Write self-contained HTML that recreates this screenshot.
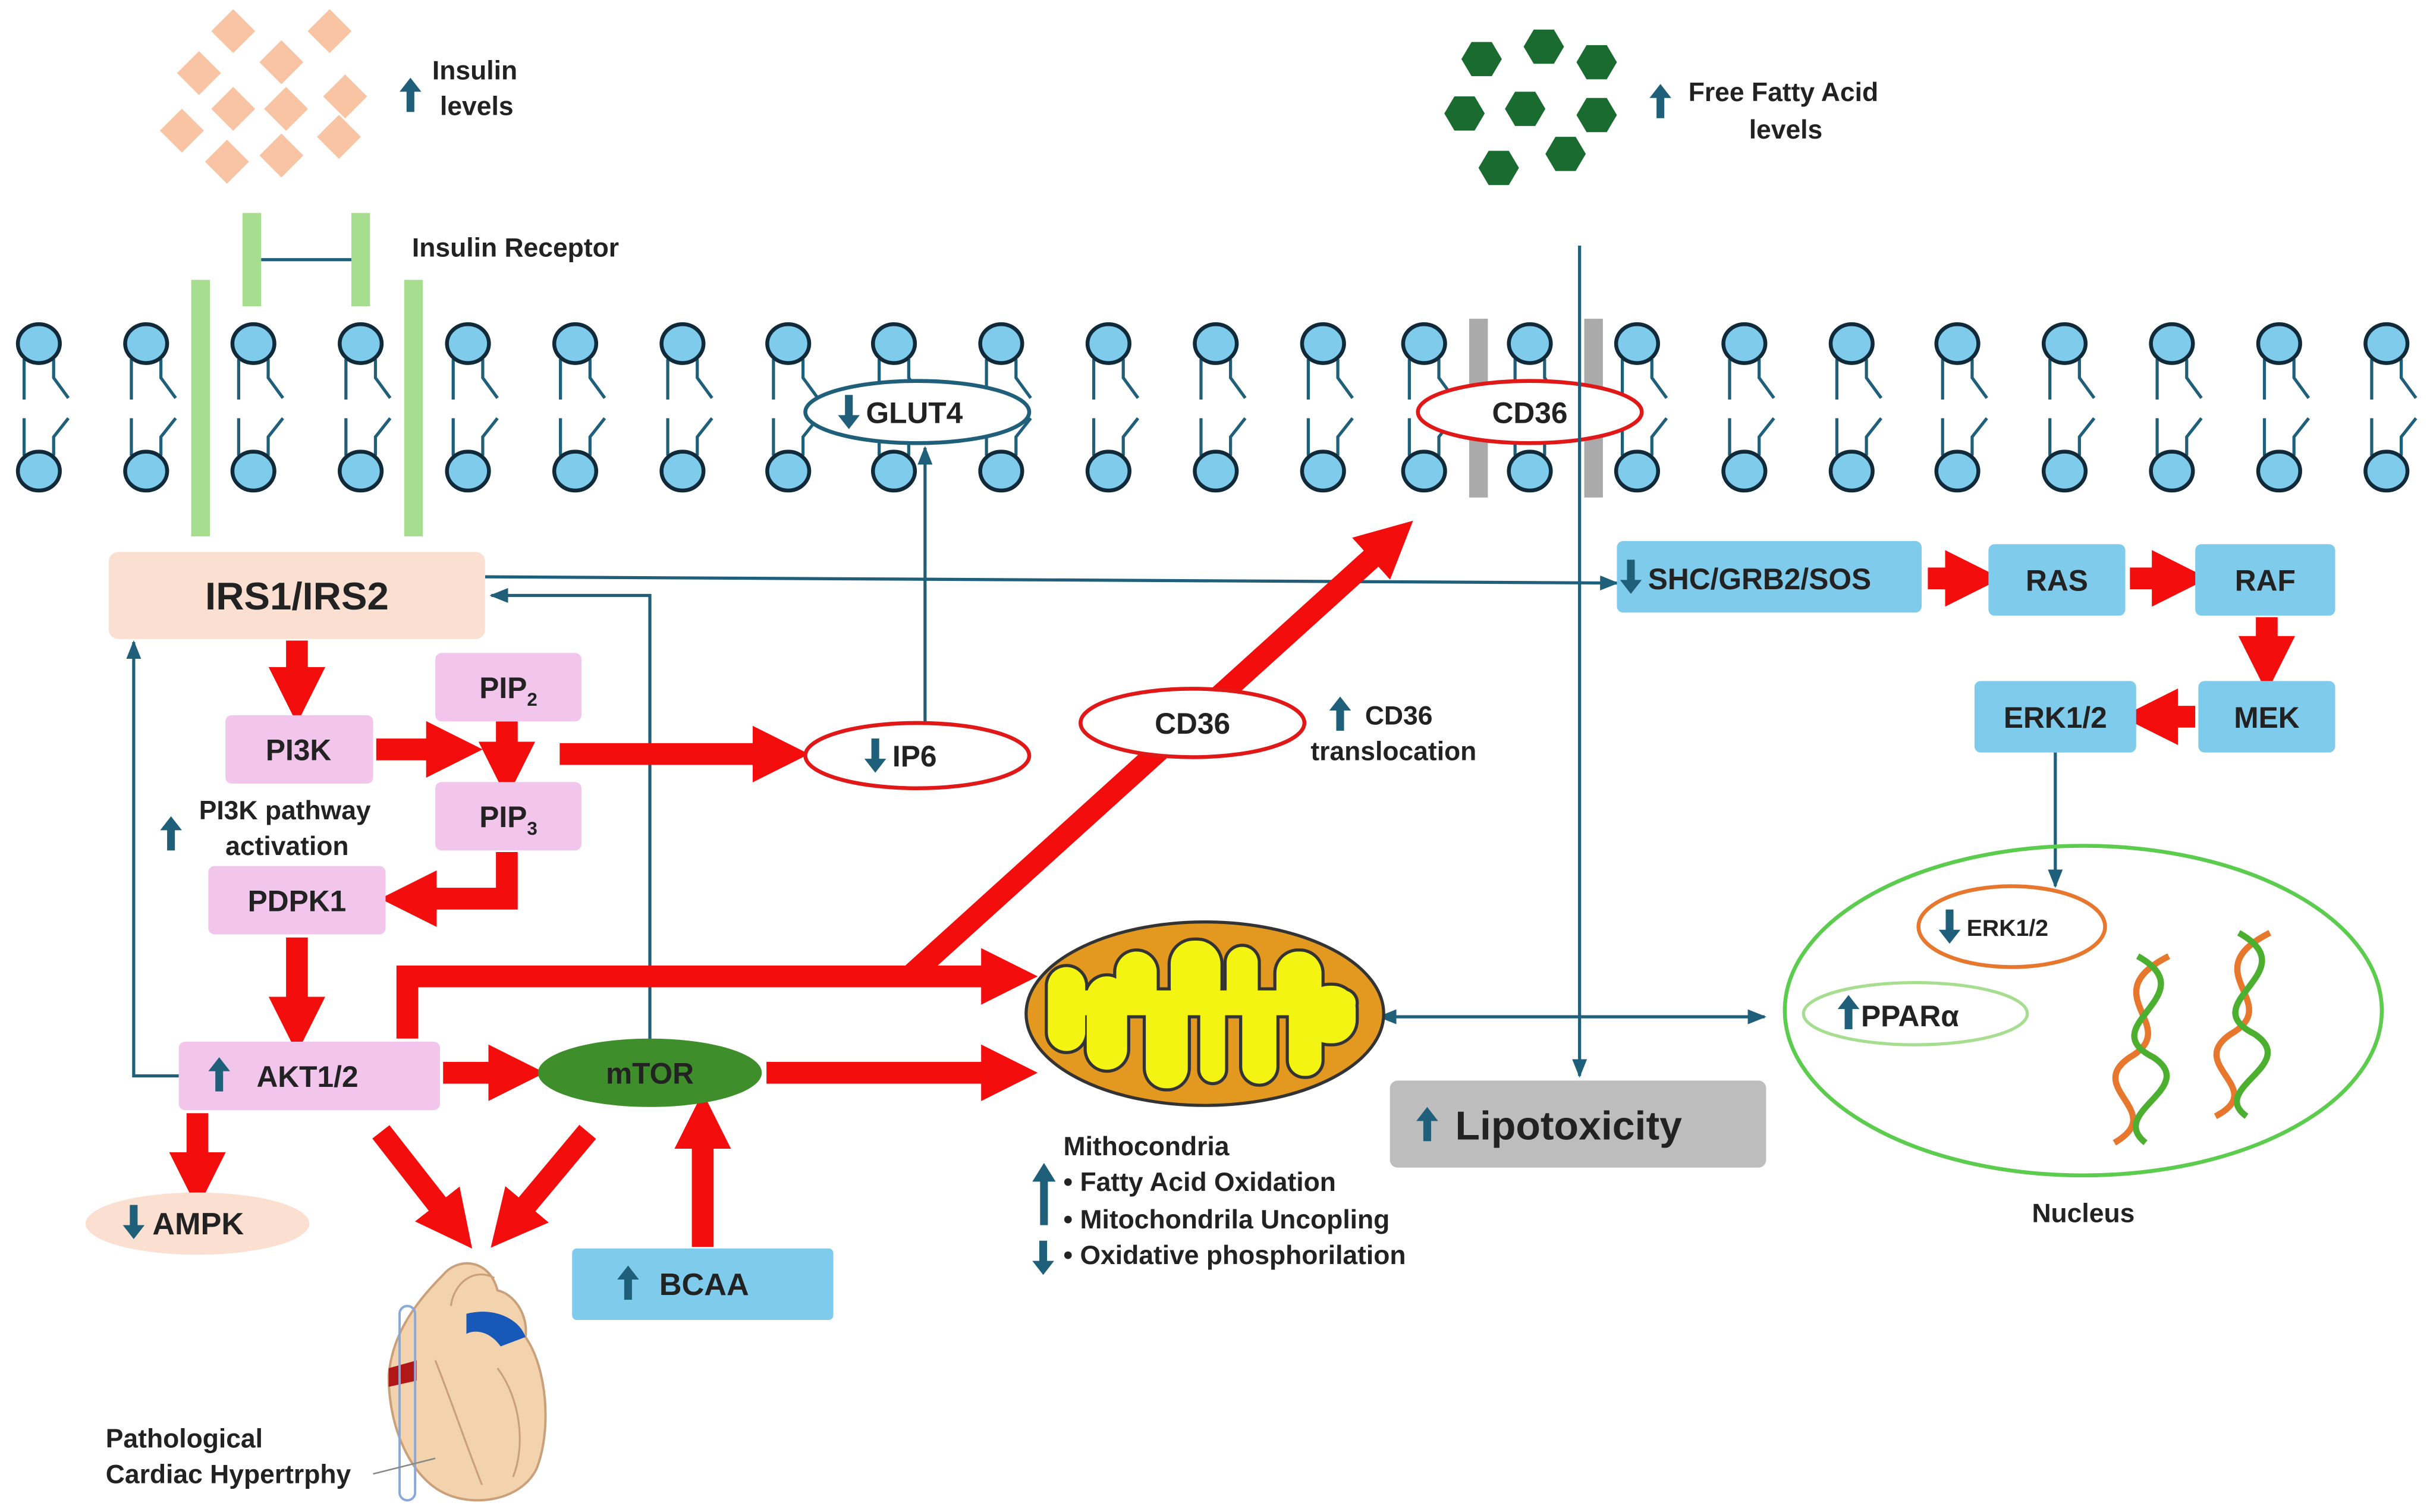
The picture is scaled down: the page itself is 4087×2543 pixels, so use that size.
<!DOCTYPE html>
<html><head><meta charset="utf-8"><style>
html,body{margin:0;padding:0;background:#fff;}
svg{display:block;}
text{font-family:"Liberation Sans",sans-serif;font-weight:bold;fill:#222;}
</style></head><body>
<svg width="4087" height="2543" viewBox="0 0 1563 972.5" xmlns="http://www.w3.org/2000/svg">
<defs>
<marker id="ra" viewBox="0 0 10 10" refX="3" refY="5" markerWidth="2.6" markerHeight="2.8" orient="auto" markerUnits="strokeWidth"><path d="M0,0 L10,5 L0,10 z" fill="#f40d0d"/></marker>
<marker id="ba" viewBox="0 0 10 10" refX="9" refY="5" markerWidth="6" markerHeight="6" orient="auto" markerUnits="strokeWidth"><path d="M0,1 L10,5 L0,9 z" fill="#1f5f7a"/></marker>
<marker id="bs" viewBox="0 0 10 10" refX="1" refY="5" markerWidth="6" markerHeight="6" orient="auto-start-reverse" markerUnits="strokeWidth"><path d="M0,1 L10,5 L0,9 z" fill="#1f5f7a"/></marker>
<g id="up"><rect x="-2.5" y="-4" width="5" height="14" fill="#1f5f7a"/><path d="M-7,-3 L0,-12 L7,-3 z" fill="#1f5f7a"/></g>
<g id="dn"><rect x="-2.5" y="-10" width="5" height="14" fill="#1f5f7a"/><path d="M-7,3 L0,12 L7,3 z" fill="#1f5f7a"/></g>
<g id="lip">
<path d="M-9.5,10 L-9.5,36 M9.5,10 L9.5,22 L19,35 M-9.5,48 L-9.5,72 M19,48 L9.5,60 L9.5,72" fill="none" stroke="#1f5f7a" stroke-width="2"/>
<ellipse cx="0" cy="0" rx="13.5" ry="12.5" fill="#7fcbeb" stroke="#102a3a" stroke-width="2.5"/>
<ellipse cx="0" cy="82" rx="13.5" ry="12.5" fill="#7fcbeb" stroke="#102a3a" stroke-width="2.5"/>
</g>
<path id="hex" d="M-13,0 L-6.5,-11 L6.5,-11 L13,0 L6.5,11 L-6.5,11 z" fill="#1a6b30"/>
<rect id="dia" x="-10" y="-10" width="20" height="20" fill="#f8c4a4" transform="rotate(45)"/>
<g id="fing">
<rect x="690" y="637" width="182" height="16" rx="8"/>
<rect x="674" y="622" width="24" height="54" rx="12"/>
<rect x="699" y="628" width="26" height="60" rx="13"/>
<rect x="718" y="612" width="26" height="40" rx="13"/>
<rect x="737" y="640" width="27" height="60" rx="13"/>
<rect x="753" y="605" width="32" height="45" rx="15"/>
<rect x="772" y="640" width="16" height="56" rx="8"/>
<rect x="789" y="609" width="20" height="40" rx="10"/>
<rect x="799" y="640" width="22" height="57" rx="11"/>
<rect x="821" y="612" width="29" height="40" rx="14"/>
<rect x="829" y="640" width="21" height="52" rx="10"/>
<rect x="840" y="634" width="32" height="37" rx="15"/>
</g>
</defs>

<g>
<use href="#dia" x="150" y="20"/><use href="#dia" x="212" y="20"/><use href="#dia" x="128" y="47"/><use href="#dia" x="181" y="40"/>
<use href="#dia" x="150" y="70"/><use href="#dia" x="184" y="70"/><use href="#dia" x="222" y="62"/><use href="#dia" x="117" y="84"/>
<use href="#dia" x="146" y="104"/><use href="#dia" x="181" y="100"/><use href="#dia" x="218" y="88"/>
</g>
<use href="#up" x="264" y="62"/>
<text x="278" y="51" font-size="17">Insulin</text><text x="283" y="74" font-size="17">levels</text>

<use href="#hex" x="953" y="38"/><use href="#hex" x="993" y="30"/><use href="#hex" x="1027" y="40"/><use href="#hex" x="942" y="73"/>
<use href="#hex" x="981" y="70"/><use href="#hex" x="1027" y="74"/><use href="#hex" x="964" y="108"/><use href="#hex" x="1007" y="99"/>
<use href="#up" x="1068" y="66"/>
<text x="1086" y="65" font-size="17">Free Fatty Acid</text><text x="1125" y="89" font-size="17">levels</text>

<text x="265" y="165" font-size="17">Insulin Receptor</text>

<g>
<use href="#lip" x="25" y="221"/><use href="#lip" x="94" y="221"/><use href="#lip" x="163" y="221"/><use href="#lip" x="232" y="221"/>
<use href="#lip" x="301" y="221"/><use href="#lip" x="370" y="221"/><use href="#lip" x="439" y="221"/><use href="#lip" x="507" y="221"/>
<use href="#lip" x="575" y="221"/><use href="#lip" x="644" y="221"/><use href="#lip" x="713" y="221"/><use href="#lip" x="782" y="221"/>
<use href="#lip" x="851" y="221"/><use href="#lip" x="916" y="221"/><use href="#lip" x="984" y="221"/><use href="#lip" x="1053" y="221"/>
<use href="#lip" x="1122" y="221"/><use href="#lip" x="1191" y="221"/><use href="#lip" x="1259" y="221"/><use href="#lip" x="1328" y="221"/>
<use href="#lip" x="1397" y="221"/><use href="#lip" x="1466" y="221"/><use href="#lip" x="1535" y="221"/>
</g>
<rect x="123" y="180" width="12" height="165" fill="#a6dd8f"/><rect x="260" y="180" width="12" height="165" fill="#a6dd8f"/>
<rect x="156" y="137" width="12" height="60" fill="#a6dd8f"/><rect x="226" y="137" width="12" height="60" fill="#a6dd8f"/>
<line x1="168" y1="167" x2="226" y2="167" stroke="#1f5f7a" stroke-width="2"/>
<rect x="945" y="205" width="12" height="115" fill="#aaa"/><rect x="1019" y="205" width="12" height="115" fill="#aaa"/>
<ellipse cx="984" cy="265" rx="72" ry="20" fill="#fff" stroke="#e01818" stroke-width="2.5"/>
<text x="984" y="272" font-size="19" text-anchor="middle">CD36</text>
<ellipse cx="590" cy="265" rx="72" ry="20" fill="#fff" stroke="#1f5f7a" stroke-width="2.5"/>
<use href="#dn" x="546" y="264"/><text x="557" y="272" font-size="19">GLUT4</text>

<line x1="1016" y1="158" x2="1016" y2="692" stroke="#1f5f7a" stroke-width="2" marker-end="url(#ba)"/>
<line x1="312" y1="371" x2="1040" y2="375" stroke="#1f5f7a" stroke-width="2" marker-end="url(#ba)"/>
<polyline points="418,680 418,383 316,383" fill="none" stroke="#1f5f7a" stroke-width="2" marker-end="url(#ba)"/>
<polyline points="115,692 86,692 86,413" fill="none" stroke="#1f5f7a" stroke-width="2" marker-end="url(#ba)"/>
<line x1="595" y1="465" x2="595" y2="288" stroke="#1f5f7a" stroke-width="2" marker-end="url(#ba)"/>
<line x1="1322" y1="484" x2="1322" y2="570" stroke="#1f5f7a" stroke-width="2" marker-end="url(#ba)"/>
<line x1="897" y1="654" x2="1135" y2="654" stroke="#1f5f7a" stroke-width="2" marker-start="url(#bs)" marker-end="url(#ba)"/>

<g stroke="#f40d0d" stroke-width="14" fill="none" stroke-linejoin="miter">
<line x1="191" y1="412" x2="191" y2="440" marker-end="url(#ra)"/>
<line x1="242" y1="482" x2="285" y2="482" marker-end="url(#ra)"/>
<line x1="326" y1="464" x2="326" y2="488" marker-end="url(#ra)"/>
<line x1="360" y1="485" x2="495" y2="485" marker-end="url(#ra)"/>
<polyline points="326,548 326,578 270,578" marker-end="url(#ra)"/>
<line x1="191" y1="603" x2="191" y2="652" marker-end="url(#ra)"/>
<line x1="285" y1="690" x2="325" y2="690" marker-end="url(#ra)"/>
<line x1="493" y1="690" x2="642" y2="690" marker-end="url(#ra)"/>
<polyline points="262,668 262,628 642,628" marker-end="url(#ra)"/>
<line x1="585" y1="628" x2="890" y2="352" marker-end="url(#ra)"/>
<line x1="127" y1="716" x2="127" y2="752" marker-end="url(#ra)"/>
<line x1="245" y1="728" x2="288" y2="783" marker-end="url(#ra)"/>
<line x1="378" y1="728" x2="332" y2="783" marker-end="url(#ra)"/>
<line x1="452" y1="802" x2="452" y2="728" marker-end="url(#ra)"/>
<line x1="1240" y1="372" x2="1262" y2="372" marker-end="url(#ra)"/>
<line x1="1370" y1="372" x2="1395" y2="372" marker-end="url(#ra)"/>
<line x1="1458" y1="397" x2="1458" y2="420" marker-end="url(#ra)"/>
<line x1="1412" y1="461" x2="1390" y2="461" marker-end="url(#ra)"/>
</g>

<rect x="70" y="355" width="242" height="56" rx="6" fill="#fbe0d2"/>
<text x="191" y="392" font-size="25" text-anchor="middle">IRS1/IRS2</text>
<g fill="#f2c6ec">
<rect x="145" y="460" width="95" height="44" rx="4"/><rect x="280" y="420" width="94" height="44" rx="4"/>
<rect x="280" y="503" width="94" height="44" rx="4"/><rect x="134" y="557" width="114" height="44" rx="4"/>
<rect x="115" y="670" width="168" height="44" rx="4"/>
</g>
<text x="192" y="489" font-size="19" text-anchor="middle">PI3K</text>
<text x="327" y="449" font-size="19" text-anchor="middle">PIP<tspan font-size="12" dy="5">2</tspan></text>
<text x="327" y="532" font-size="19" text-anchor="middle">PIP<tspan font-size="12" dy="5">3</tspan></text>
<text x="191" y="586" font-size="19" text-anchor="middle">PDPK1</text>
<use href="#up" x="141" y="692"/><text x="165" y="699" font-size="19">AKT1/2</text>
<use href="#up" x="110" y="537"/>
<text x="128" y="527" font-size="17">PI3K pathway</text><text x="145" y="550" font-size="17">activation</text>

<ellipse cx="418" cy="690" rx="72" ry="22" fill="#3e8f2c"/>
<text x="418" y="697" font-size="19" text-anchor="middle">mTOR</text>
<ellipse cx="127" cy="787" rx="72" ry="20" fill="#fbe0d2"/>
<use href="#dn" x="86" y="785"/><text x="98" y="794" font-size="20">AMPK</text>
<rect x="368" y="803" width="168" height="46" rx="3" fill="#7fcbeb"/>
<use href="#up" x="404" y="826"/><text x="424" y="833" font-size="20">BCAA</text>

<ellipse cx="590" cy="486" rx="72" ry="21" fill="#fff" stroke="#e01818" stroke-width="2.5"/>
<use href="#dn" x="563" y="485"/><text x="574" y="493" font-size="19">IP6</text>
<ellipse cx="767" cy="465" rx="72" ry="22" fill="#fff" stroke="#e01818" stroke-width="2.5"/>
<text x="767" y="472" font-size="19" text-anchor="middle">CD36</text>
<use href="#up" x="862" y="460"/>
<text x="878" y="466" font-size="17">CD36</text><text x="843" y="489" font-size="17">translocation</text>

<g fill="#7fcbeb">
<rect x="1040" y="348" width="196" height="46" rx="4"/><rect x="1279" y="350" width="88" height="46" rx="4"/>
<rect x="1412" y="350" width="90" height="46" rx="4"/><rect x="1414" y="438" width="88" height="46" rx="4"/>
<rect x="1270" y="438" width="104" height="46" rx="4"/>
</g>
<use href="#dn" x="1049" y="370"/><text x="1060" y="379" font-size="19">SHC/GRB2/SOS</text>
<text x="1323" y="380" font-size="19" text-anchor="middle">RAS</text>
<text x="1457" y="380" font-size="19" text-anchor="middle">RAF</text>
<text x="1458" y="468" font-size="19" text-anchor="middle">MEK</text>
<text x="1322" y="468" font-size="19" text-anchor="middle">ERK1/2</text>

<ellipse cx="775" cy="652" rx="115" ry="59" fill="#e3981f" stroke="#333" stroke-width="2"/>
<use href="#fing" fill="#333" stroke="#333" stroke-width="4"/>
<use href="#fing" fill="#f4f413"/>

<rect x="894" y="695" width="242" height="56" rx="5" fill="#bdbdbd"/>
<use href="#up" x="918" y="724"/><text x="936" y="733" font-size="26">Lipotoxicity</text>

<text x="684" y="743" font-size="17">Mithocondria</text>
<rect x="669" y="758" width="5" height="30" fill="#1f5f7a"/><path d="M664,760 L671.5,748 L679,760 z" fill="#1f5f7a"/>
<use href="#dn" x="671" y="808"/>
<text x="684" y="766" font-size="17">•  Fatty Acid Oxidation</text>
<text x="684" y="790" font-size="17">•  Mitochondrila Uncopling</text>
<text x="684" y="813" font-size="17">•  Oxidative phosphorilation</text>

<ellipse cx="1340" cy="650" rx="192" ry="106" fill="none" stroke="#5ccc4e" stroke-width="2.5"/>
<ellipse cx="1294" cy="596" rx="60" ry="26" fill="#fff" stroke="#e8772e" stroke-width="2.5"/>
<use href="#dn" x="1254" y="595"/><text x="1265" y="602" font-size="15">ERK1/2</text>
<ellipse cx="1232" cy="652" rx="72" ry="20" fill="#fff" stroke="#a6dd8f" stroke-width="2"/>
<use href="#up" x="1189" y="652"/><text x="1197" y="660" font-size="19">PPARα</text>
<g fill="none" stroke-width="4">
<path d="M1395,615 C1345,640 1405,660 1370,680 C1340,700 1395,715 1360,735" stroke="#e8772e"/>
<path d="M1375,615 C1420,640 1345,660 1385,680 C1415,700 1355,715 1380,735" stroke="#4caf30"/>
<path d="M1460,600 C1410,625 1470,645 1435,665 C1405,685 1460,700 1425,718" stroke="#e8772e"/>
<path d="M1440,600 C1485,625 1410,645 1450,665 C1480,685 1420,700 1445,718" stroke="#4caf30"/>
</g>
<text x="1340" y="786" font-size="17" text-anchor="middle">Nucleus</text>

<path d="M285,820 C295,808 315,810 320,830 C330,832 340,845 338,860 C352,880 355,920 345,945 C335,965 305,970 285,960 C265,950 250,920 250,885 C252,860 265,840 285,820 z" fill="#f3d3ad" stroke="#c9a07a" stroke-width="1.5"/>
<path d="M290,840 C292,825 305,815 318,822 M280,875 C290,900 300,930 310,955 M320,880 C335,900 338,930 330,950" fill="none" stroke="#c9a07a" stroke-width="1.2"/>
<path d="M300,845 C320,840 335,850 338,860 L322,866 C315,856 305,855 300,858 z" fill="#1758b8"/>
<path d="M250,880 L268,875 L268,888 L250,892 z" fill="#b01818"/>
<rect x="257" y="840" width="10" height="125" rx="5" fill="none" stroke="#8aa8d8" stroke-width="1.5"/>
<line x1="240" y1="948" x2="280" y2="938" stroke="#888" stroke-width="1"/>
<text x="68" y="931" font-size="17">Pathological</text>
<text x="68" y="954" font-size="17">Cardiac Hypertrphy</text>
</svg>
</body></html>
